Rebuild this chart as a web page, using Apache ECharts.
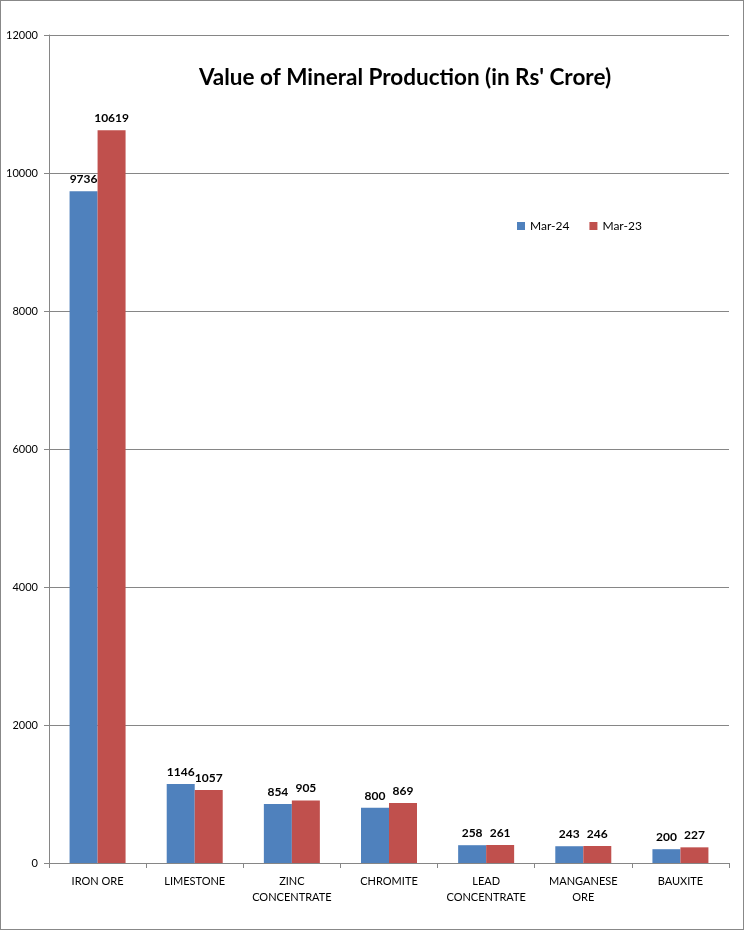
<!DOCTYPE html>
<html>
<head>
<meta charset="utf-8">
<script src="https://cdn.jsdelivr.net/npm/echarts@6/dist/echarts.min.js"></script>
<style>
  html, body { margin: 0; padding: 0; background: #fff; }
  #chart { width: 744px; height: 930px; box-sizing: border-box; border: 1px solid #888; }
</style>
</head>
<body>
<div id="chart"></div>
<script>
// mineral production values (Rs' crore)
const minerals = ["IRON ORE", "LIMESTONE", "ZINC\nCONCENTRATE", "CHROMITE", "LEAD\nCONCENTRATE", "MANGANESE\nORE", "BAUXITE"];
const mar24 = [9736, 1146, 854, 800, 258, 243, 200];
const mar23 = [10619, 1057, 905, 869, 261, 246, 227];
const seriesNames = ["Mar-24", "Mar-23"];

const font = "Lato, 'Open Sans', sans-serif";

function barLabel() {
  return {
    show: true,
    position: "top",
    distance: 6,
    color: "#000",
    fontWeight: "bold",
    fontSize: 12,
    fontFamily: font,
  };
}

const options = {
  animation: false,
  title: {
    text: "Value of Mineral Production (in Rs' Crore)",
    left: 399,
    textAlign: "center",
    top: 60,
    textStyle: { fontSize: 22.5, fontWeight: "bold", color: "#000", fontFamily: font },
  },
  legend: {
    left: 511,
    top: 214,
    itemWidth: 8,
    itemHeight: 8,
    itemGap: 20,
    icon: "rect",
    textStyle: { fontSize: 12, color: "#000", fontFamily: font },
    data: seriesNames,
  },
  grid: { left: 48, right: 14, top: 34, bottom: 66 },
  xAxis: {
    type: "category",
    data: minerals,
    axisLine: { lineStyle: { color: "#868686" } },
    axisTick: { show: true, length: 5, lineStyle: { color: "#868686" } },
    axisLabel: { color: "#000", fontSize: 11, fontFamily: font, margin: 10, lineHeight: 16, interval: 0 },
  },
  yAxis: {
    type: "value",
    min: 0,
    max: 12000,
    interval: 2000,
    axisLine: { show: true, lineStyle: { color: "#868686" } },
    axisTick: { show: true, length: 5, lineStyle: { color: "#868686" } },
    axisLabel: { color: "#000", fontSize: 11, fontFamily: font, margin: 11, formatter: (v) => String(v) },
    splitLine: { lineStyle: { color: "#868686" } },
  },
  series: [
    {
      name: seriesNames[0],
      type: "bar",
      data: mar24,
      barWidth: 28,
      barGap: "0%",
      itemStyle: { color: "#4F81BD" },
      label: barLabel(),
    },
    {
      name: seriesNames[1],
      type: "bar",
      data: mar23,
      barWidth: 28,
      itemStyle: { color: "#C0504D" },
      label: barLabel(),
    },
  ],
};

const chart = echarts.init(document.querySelector("#chart"));
chart.setOption(options);
</script>
</body>
</html>
